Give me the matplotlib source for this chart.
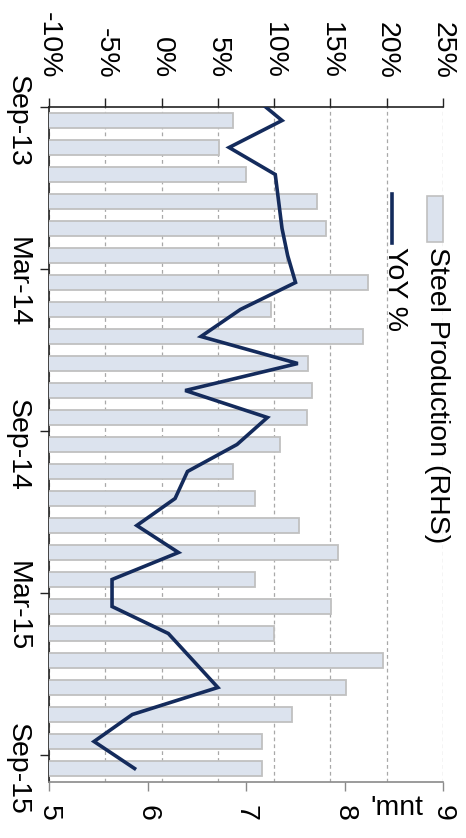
import numpy as np
import matplotlib.pyplot as plt
from matplotlib.patches import Rectangle
from matplotlib.lines import Line2D

plt.rcParams['font.family'] = ['Liberation Sans', 'DejaVu Sans']

# monthly steel production (mnt) and its YoY change
months = ['Sep-13', 'Oct-13', 'Nov-13', 'Dec-13', 'Jan-14', 'Feb-14', 'Mar-14',
          'Apr-14', 'May-14', 'Jun-14', 'Jul-14', 'Aug-14', 'Sep-14', 'Oct-14',
          'Nov-14', 'Dec-14', 'Jan-15', 'Feb-15', 'Mar-15', 'Apr-15', 'May-15',
          'Jun-15', 'Jul-15', 'Aug-15', 'Sep-15']
production = [6.87, 6.73, 7.00, 7.72, 7.81, 7.42, 8.24, 7.25, 8.19, 7.63,
              7.67, 7.62, 7.35, 6.87, 7.09, 7.54, 7.93, 7.09, 7.86, 7.28,
              8.39, 8.02, 7.47, 7.16, 7.16]
# the YoY series starts one month earlier (Aug-13), its first point falls off the top
yoy_months = ['Aug-13'] + months
yoy = [7.8, 10.7, 6.0, 10.1, 10.4, 10.7, 11.2, 11.9, 7.0, 3.5, 12.1,
       2.1, 9.4, 6.7, 2.3, 1.2, -2.2, 1.5, -4.4, -4.4, 0.6, 2.8,
       5.0, -2.6, -6.0, -2.4]

date_ticks = ['Sep-13', 'Mar-14', 'Sep-14', 'Mar-15', 'Sep-15']
yoy_ticks = [-10, -5, 0, 5, 10, 15, 20, 25]
prod_ticks = [5, 6, 7, 8, 9]

BAR = '#dce3ee'
EDGE = '#c0c0c0'
NAVY = '#142b5c'
FS = 20.5
W, H = 466, 838

pos = np.arange(len(months)) + 0.5
yoy_pos = np.arange(len(yoy_months)) - 0.5

fig = plt.figure(figsize=(W / 100, H / 100), dpi=100)
ax = fig.add_axes([49 / W, 56 / H, 394 / W, 675 / H])
ax_bar = ax.twiny()
ax_line = ax.twiny()

# bars on the RHS scale (drawn along the bottom)
ax_bar.barh(pos, production, height=0.55, color=BAR, edgecolor=EDGE, linewidth=1.3)
ax_bar.set_xlim(5, 9)
ax_bar.xaxis.tick_bottom()
ax_bar.set_xticks(prod_ticks)
ax_bar.set_xticklabels([str(v) for v in prod_ticks], rotation=-90)
ax_bar.tick_params(axis='x', direction='out', length=6.5, width=1, color='#8a8a8a',
                   pad=10, labelsize=FS, top=False, labeltop=False)
for side in ['top', 'left', 'right']:
    ax_bar.spines[side].set_visible(False)
ax_bar.spines['bottom'].set_color('#8a8a8a')
ax_bar.spines['bottom'].set_linewidth(1.2)

# YoY line
ax_line.plot(yoy, yoy_pos, color=NAVY, lw=2.6, solid_joinstyle='miter')
ax_line.set_xlim(-10, 25)
ax_line.set_axis_off()

# YoY scale on top with dashed gridlines behind the bars
ax.set_xlim(-10, 25)
ax.xaxis.tick_top()
ax.set_xticks(yoy_ticks)
ax.set_xticklabels([f'{v}%' for v in yoy_ticks], rotation=-90)
ax.tick_params(axis='x', direction='out', length=6.5, width=1, color='#222222',
               pad=14, labelsize=FS, bottom=False, labelbottom=False)
ax.grid(axis='x', color='#a8a8a8', ls=(0, (3, 2.5)), lw=0.9)

# date axis: ticks between months, labels on the month itself
tick_idx = [months.index(m) for m in date_ticks]
ax.set_yticks(tick_idx)
ax.set_yticklabels([])
ax.set_yticks([i + 0.5 for i in tick_idx], minor=True)
ax.set_yticklabels(date_ticks, minor=True, rotation=-90, va='center')
ax.tick_params(axis='y', which='major', direction='out', length=6.5, width=1, color='#222222')
ax.tick_params(axis='y', which='minor', length=0, pad=13.5, labelsize=FS)
ax.spines['bottom'].set_visible(False)
ax.spines['right'].set_visible(False)
ax.spines['top'].set_color('#222222')
ax.spines['left'].set_color('#222222')
ax.spines['top'].set_linewidth(1.2)
ax.spines['left'].set_linewidth(1.2)
ax.set_ylim(len(months), 0)

# legend, turned like the rest of the chart
fig.add_artist(Rectangle((427 / W, 1 - 242 / H), 16 / W, 46 / H, transform=fig.transFigure,
                         facecolor=BAR, edgecolor=EDGE, lw=1.2))
fig.add_artist(Line2D([392 / W, 392 / W], [1 - 194 / H, 1 - 243 / H],
                      transform=fig.transFigure, color=NAVY, lw=2.6))
fig.text(437 / W, 1 - 247 / H, 'Steel Production (RHS)', rotation=-90,
         ha='center', va='top', fontsize=FS)
fig.text(395 / W, 1 - 247 / H, 'YoY %', rotation=-90, ha='center', va='top', fontsize=FS)

fig.text(397 / W, 1 - 815 / H, "'mnt", ha='center', va='baseline', fontsize=FS)

fig.savefig('out.png', dpi=100)
